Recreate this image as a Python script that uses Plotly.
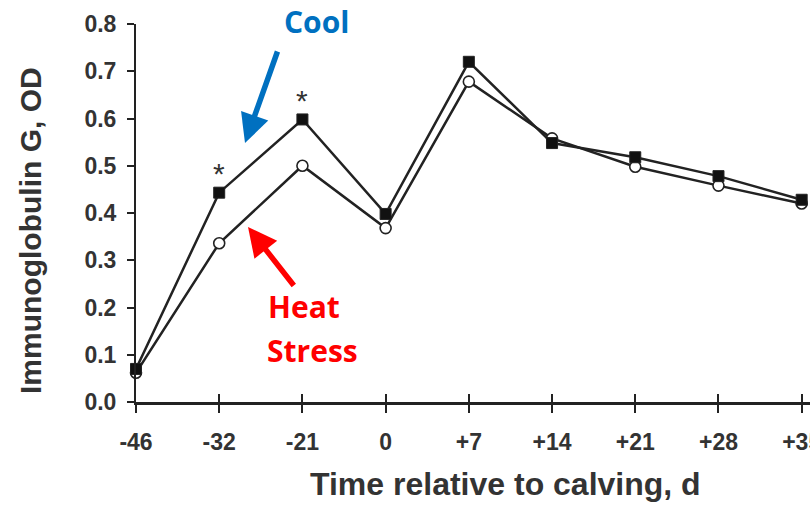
import plotly.graph_objects as go

days = ["-46", "-32", "-21", "0", "+7", "+14", "+21", "+28", "+35"]
cool = [0.07, 0.443, 0.598, 0.398, 0.72, 0.548, 0.518, 0.478, 0.428]
heat = [0.062, 0.336, 0.500, 0.368, 0.678, 0.558, 0.498, 0.458, 0.420]
sig_idx = [1, 2]
y_ticks = [0.0, 0.1, 0.2, 0.3, 0.4, 0.5, 0.6, 0.7, 0.8]

W, H = 810, 508
L, R, T, B = 136, 0, 24, 106
PW, PH = W - L - R, H - T - B


def px(x):
    return (x - L) / PW


def py(y):
    return (H - B - y) / PH


xi = list(range(len(days)))
ink = "#222222"
txt = "#333333"

fig = go.Figure()
fig.add_trace(go.Scatter(
    x=xi, y=heat, mode="lines+markers", name="Heat Stress",
    line=dict(color=ink, width=2.5),
    marker=dict(symbol="circle", size=11, color="white", line=dict(color=ink, width=1.6)),
    cliponaxis=False, showlegend=False))
fig.add_trace(go.Scatter(
    x=xi, y=cool, mode="lines+markers", name="Cool",
    line=dict(color=ink, width=2.5),
    marker=dict(symbol="square", size=11, color="#111111", line=dict(color=ink, width=1)),
    cliponaxis=False, showlegend=False))
# helper trace so the overlay axis (inside half of crossing ticks) renders
fig.add_trace(go.Scatter(x=[0], y=[0], xaxis="x2", mode="markers",
                         marker=dict(opacity=0), hoverinfo="skip", showlegend=False))

anns = []
for i in sig_idx:
    anns.append(dict(x=xi[i], y=cool[i], xref="x", yref="y", text="*", showarrow=False,
                     yshift=19, font=dict(family="Liberation Sans", size=30, color=txt)))

# axis titles
anns.append(dict(x=px(30), y=py(231), xref="paper", yref="paper", text="Immunoglobulin G, OD",
                 textangle=-90, showarrow=False, xanchor="center", yanchor="middle",
                 font=dict(family="Liberation Sans", size=30, color=txt, weight="bold")))
anns.append(dict(x=px(505), y=py(484), xref="paper", yref="paper", text="Time relative to calving, d",
                 showarrow=False, xanchor="center", yanchor="middle",
                 font=dict(family="Liberation Sans", size=32, color=txt, weight="bold")))

# labels
blue = "#0070C0"
red = "#FF0000"
anns.append(dict(x=px(316), y=py(22), xref="paper", yref="paper", text="Cool", showarrow=False,
                 xanchor="center", yanchor="middle",
                 font=dict(family="Open Sans", size=30, color=blue, weight="bold")))
anns.append(dict(x=px(266), y=py(306), xref="paper", yref="paper", text="Heat", showarrow=False,
                 xanchor="left", yanchor="middle",
                 font=dict(family="Open Sans", size=30, color=red, weight="bold")))
anns.append(dict(x=px(265), y=py(350), xref="paper", yref="paper", text="Stress", showarrow=False,
                 xanchor="left", yanchor="middle",
                 font=dict(family="Open Sans", size=30, color=red, weight="bold")))
# arrows
anns.append(dict(x=px(245), y=py(143), xref="paper", yref="paper", text="", showarrow=True,
                 ax=33, ay=-93, arrowcolor=blue, arrowwidth=5.5, arrowhead=2, arrowsize=1.05))
anns.append(dict(x=px(248), y=py(227), xref="paper", yref="paper", text="", showarrow=True,
                 ax=47, ay=60, arrowcolor=red, arrowwidth=5.5, arrowhead=2, arrowsize=1.05))

fig.update_layout(
    width=W, height=H,
    margin=dict(l=L, r=R, t=T, b=B),
    paper_bgcolor="white", plot_bgcolor="white",
    showlegend=False,
    annotations=anns,
    xaxis=dict(range=[0, 8.1], tickvals=xi, ticktext=days, ticks="outside", ticklen=8,
               tickwidth=2, tickcolor=ink, showline=True, linewidth=3, linecolor=ink,
               showgrid=False, zeroline=False, automargin=False, ticklabelstandoff=9,
               ticklabeloverflow="allow",
               tickfont=dict(family="Liberation Sans", size=23, color=txt, weight="bold")),
    xaxis2=dict(overlaying="x", matches="x", anchor="y", side="bottom", tickvals=xi,
                ticks="inside", ticklen=8, tickwidth=2, tickcolor=ink, showticklabels=False,
                showline=False, showgrid=False, zeroline=False, automargin=False),
    yaxis=dict(range=[0, 0.8], tickvals=y_ticks, tickformat=".1f", ticks="outside", ticklen=7,
               tickwidth=2, tickcolor=ink, showline=True, linewidth=2, linecolor=ink,
               showgrid=False, zeroline=False, automargin=False, ticklabelstandoff=6,
               tickfont=dict(family="Liberation Sans", size=23, color=txt, weight="bold")),
)

fig.write_html("out.html")
